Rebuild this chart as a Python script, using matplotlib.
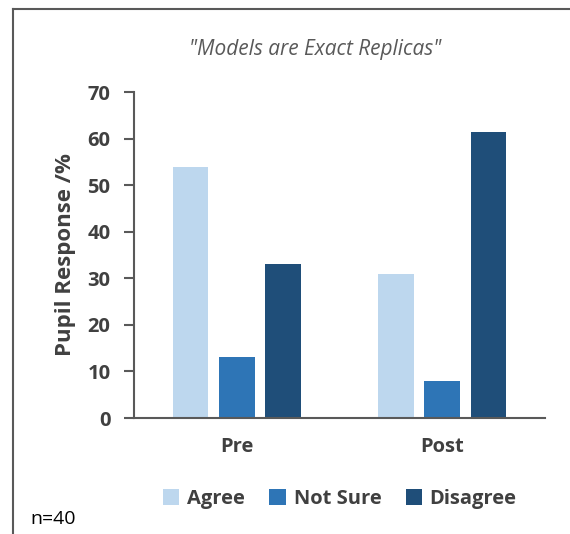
import numpy as np
import matplotlib.pyplot as plt
from matplotlib.lines import Line2D

plt.rcParams['font.family'] = ['Open Sans', 'DejaVu Sans']

categories = ['Pre', 'Post']
series = ['Agree', 'Not Sure', 'Disagree']
agree = [54, 31]
not_sure = [13, 8]
disagree = [33, 61.5]
colors = ['#BDD7EE', '#2E75B6', '#1F4E79']

fig = plt.figure(figsize=(5.7, 5.34), dpi=100)
W, H = 570, 534
ax = fig.add_axes([134 / W, 1 - 418 / H, 411 / W, 326 / H])

x = np.arange(len(categories))
width = 0.173
step = 0.224
for i, (vals, name) in enumerate(zip([agree, not_sure, disagree], series)):
    ax.bar(x + (i - 1) * step, vals, width, color=colors[i], label=name)

ax.set_xlim(-0.5, 1.5)
ax.set_ylim(0, 70)
ax.set_yticks(range(0, 71, 10))
ax.set_xticks(x)
ax.set_xticklabels(categories)
ax.spines[['top', 'right']].set_visible(False)
for s in ['left', 'bottom']:
    ax.spines[s].set_color('#595959')
    ax.spines[s].set_linewidth(1.5)
ax.tick_params(axis='y', length=7, width=1.5, color='#595959', labelsize=14.5, labelcolor='#404040', pad=10)
ax.tick_params(axis='x', length=0, labelsize=14.5, labelcolor='#404040', pad=14)
for lab in ax.get_xticklabels() + ax.get_yticklabels():
    lab.set_fontweight('bold')

ax.set_ylabel('Pupil Response /%', fontsize=16, fontweight='bold', color='#404040', labelpad=8)

fig.text(315 / W, 1 - 50 / H, '"Models are Exact Replicas"', ha='center', va='center',
         fontsize=15, style='italic', color='#595959')

fig.legend(loc='center', bbox_to_anchor=(340 / W, 1 - 499 / H), ncol=3, frameon=False,
           prop={'size': 14.5, 'weight': 'bold'}, labelcolor='#404040',
           handlelength=0.8, handleheight=0.8, handletextpad=0.4, columnspacing=1.2)

fig.text(30 / W, 1 - 519 / H, 'n=40', ha='left', va='center', fontsize=14, color='black')

# outer frame (left and top edges only visible)
fig.add_artist(Line2D([13 / W, 13 / W], [0, 1 - 9 / H], color='#595959', lw=1.5))
fig.add_artist(Line2D([13 / W, 1], [1 - 9 / H, 1 - 9 / H], color='#595959', lw=1.5))

fig.savefig('out.png', dpi=100)
